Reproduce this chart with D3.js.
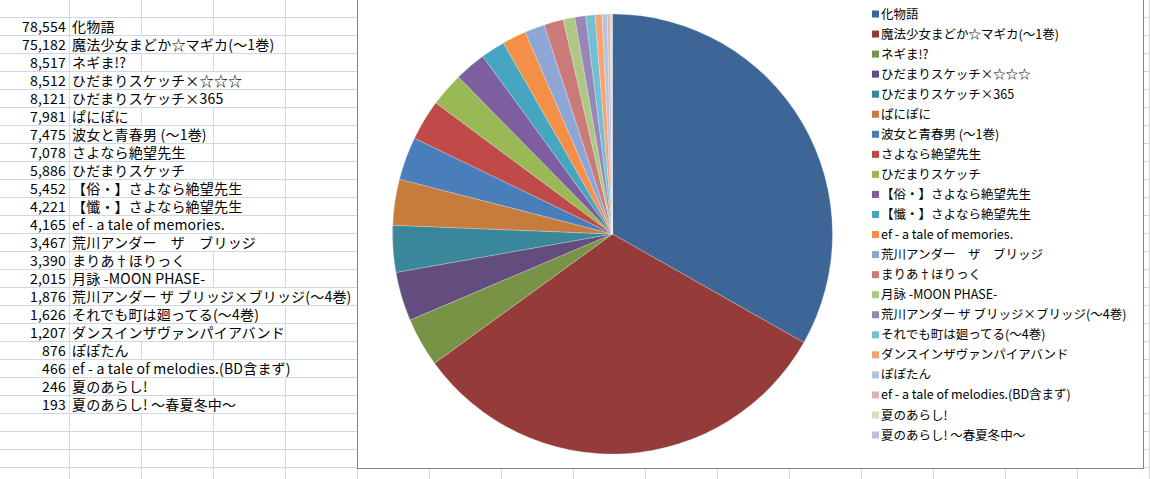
<!DOCTYPE html>
<html>
<head>
<meta charset="utf-8">
<script src="https://cdn.jsdelivr.net/npm/d3@7"></script>
<style>
  body { margin: 0; background: #fff; }
  svg { display: block; }
</style>
</head>
<body>
<svg id="sheet"></svg>
<script>
const width = 1150, height = 479;

// data
const titles = ["化物語", "魔法少女まどか☆マギカ(～1巻)", "ネギま!?", "ひだまりスケッチ×☆☆☆", "ひだまりスケッチ×365",
  "ぱにぽに", "波女と青春男 (～1巻)", "さよなら絶望先生", "ひだまりスケッチ", "【俗・】さよなら絶望先生",
  "【懺・】さよなら絶望先生", "ef - a tale of memories.", "荒川アンダー　ザ　ブリッジ", "まりあ†ほりっく", "月詠 -MOON PHASE-",
  "荒川アンダー ザ ブリッジ×ブリッジ(～4巻)", "それでも町は廻ってる(～4巻)", "ダンスインザヴァンパイアバンド", "ぽぽたん",
  "ef - a tale of melodies.(BD含まず)", "夏のあらし!", "夏のあらし! ～春夏冬中～"];
const sales = [78554, 75182, 8517, 8512, 8121, 7981, 7475, 7078, 5886, 5452, 4221, 4165, 3467, 3390, 2015, 1876, 1626, 1207, 876, 466, 246, 193];
const sliceColors = ["#3d6696", "#953c3a", "#789346", "#624d7e", "#398799", "#c67c3c", "#4a7ebb", "#be4b48", "#98b954",
  "#7d5fa0", "#46a5c0", "#f38f46", "#8ea6d3", "#c97b7a", "#adc884", "#9887b6", "#74bfd3", "#f7a36f", "#b3c3e1",
  "#dfb2b2", "#d3dfc0", "#c3bcd6"];

const rowH = 18, rowTop = 17.5, colW = 72, colLeft = 69.5;
const nRows = 27, nCols = 16;

const svg = d3.select("#sheet")
    .attr("width", width)
    .attr("height", height)
    .style("font-family", "'Noto Sans CJK JP', sans-serif");

const grid = svg.append("g");
const cells = svg.append("g");

// cell text first, so we know how far each name spills to the right
const fmt = d3.format(",");
const rows = cells.selectAll("g.row")
    .data(titles)
    .enter().append("g")
    .attr("class", "row")
    .attr("transform", (d, i) => `translate(0, ${rowTop + rowH * i + rowH / 2 + 5})`);

rows.append("text")
    .attr("x", 66)
    .attr("text-anchor", "end")
    .style("font-size", "14px")
    .style("letter-spacing", "0.2px")
    .text((d, i) => fmt(sales[i]));

rows.append("text")
    .attr("class", "name")
    .attr("x", 72)
    .style("font-size", "14px")
    .style("letter-spacing", "0.2px")
    .text(d => d);

const textEnd = [];
cells.selectAll("text.name").each(function() { textEnd.push(72 + this.getComputedTextLength()); });

// horizontal gridlines
grid.selectAll("line.h")
    .data(d3.range(-1, nRows))
    .enter().append("line")
    .attr("x1", 0).attr("x2", width)
    .attr("y1", k => rowTop + rowH * k).attr("y2", k => rowTop + rowH * k)
    .attr("stroke", "#d0d7e5");

// vertical gridlines, cut where text overflows into the next cells
const segs = [];
for (let r = -1; r < nRows; r++) {
  for (let c = 0; c < nCols; c++) {
    const x = colLeft + colW * c;
    if (r >= 0 && r < titles.length && c > 0 && x < textEnd[r]) continue;
    segs.push({ x: x, y: rowTop + rowH * r });
  }
}
grid.selectAll("line.v")
    .data(segs)
    .enter().append("line")
    .attr("x1", d => d.x).attr("x2", d => d.x)
    .attr("y1", d => d.y).attr("y2", d => d.y + rowH)
    .attr("stroke", "#d0d7e5");

// chart area
const chart = svg.append("g");
chart.append("rect")
    .attr("x", 357.5).attr("y", -2)
    .attr("width", 786).attr("height", 470.5)
    .attr("fill", "#fff")
    .attr("stroke", "#868686");

const color = d3.scaleOrdinal().domain(titles).range(sliceColors);

const pie = d3.pie().sort(null).value(d => d.value);
const arc = d3.arc().innerRadius(0).outerRadius(220);
const slices = titles.map((t, i) => ({ key: t, value: sales[i] }));

chart.append("g")
    .attr("transform", "translate(612.5, 234)")
    .selectAll("path")
    .data(pie(slices))
    .enter().append("path")
    .attr("d", arc)
    .attr("fill", d => color(d.data.key))
    .attr("stroke", "#fff")
    .attr("stroke-width", 0.4)
    .attr("stroke-opacity", 0.6);

// legend
const legend = chart.selectAll(".legend")
    .data(titles)
    .enter().append("g")
    .attr("class", "legend")
    .attr("transform", (d, i) => `translate(872, ${14 + i * 20.05})`);

legend.append("rect")
    .attr("x", 0).attr("y", -3.5)
    .attr("width", 7).attr("height", 7)
    .attr("fill", d => color(d));

legend.append("text")
    .attr("x", 9)
    .attr("y", 4.5)
    .style("font-size", "12.5px")
    .attr("fill", "#000")
    .text(d => d);
</script>
</body>
</html>
